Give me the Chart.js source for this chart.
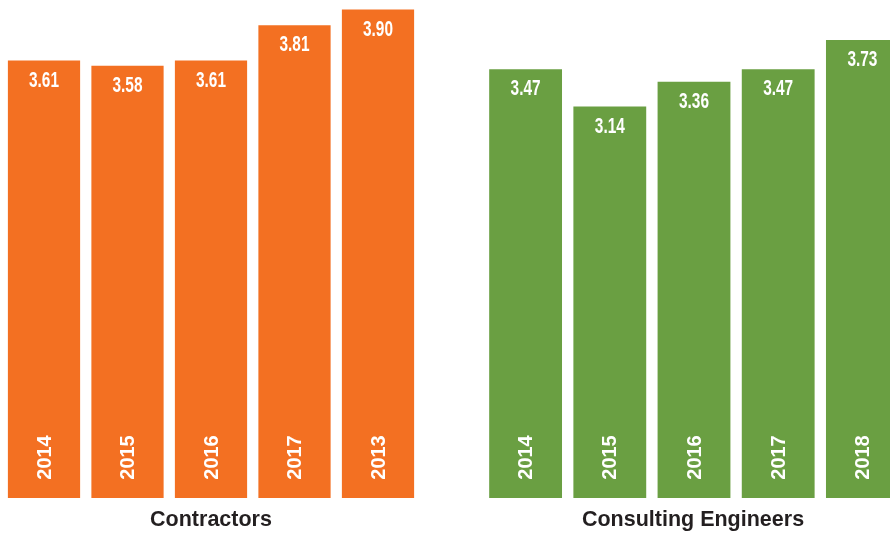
<!DOCTYPE html>
<html>
<head>
<meta charset="utf-8">
<script src="https://cdn.jsdelivr.net/npm/chart.js@4.4.0/dist/chart.umd.min.js"></script>
<style>
  html, body { margin: 0; padding: 0; background: #fff; overflow: hidden; width: 890px; height: 533px; }
  canvas { position: absolute; top: 0; }
  #contractors { left: 0; }
  #engineers { left: 481px; }
</style>
</head>
<body>
<canvas id="contractors" width="422" height="533"></canvas>
<canvas id="engineers" width="425" height="533"></canvas>
<script>
const contractorYears = ['2014', '2015', '2016', '2017', '2013'];
const contractorValues = [3.61, 3.58, 3.61, 3.81, 3.90];
const engineerYears = ['2014', '2015', '2016', '2017', '2018'];
const engineerValues = [3.47, 3.14, 3.36, 3.47, 3.73];

// value range of the (hidden) y axis for each panel, bars start at the low end
const contractorRange = [1.124, 3.954];
const engineerRange = [-0.337, 4.086];

const colors = {
  orange: '#f37022',
  green: '#6a9f42',
  text: '#231f20'
};

// value at the top of each bar, year turned up the bar, group caption below
const barLabels = {
  id: 'barLabels',
  afterDatasetsDraw(chart, args, opts) {
    const ctx = chart.ctx;
    const bars = chart.getDatasetMeta(0).data;
    const values = chart.data.datasets[0].data;
    const years = chart.data.labels;
    const area = chart.chartArea;

    ctx.save();
    ctx.fillStyle = '#fff';
    ctx.textAlign = 'center';
    ctx.textBaseline = 'middle';
    ctx.font = 'bold 22px "Liberation Sans", Arial, sans-serif';
    bars.forEach((bar, i) => {
      ctx.save();
      ctx.translate(bar.x, bar.y + 19);
      ctx.scale(0.7, 1);
      ctx.fillText(values[i].toFixed(2), 0, 1);
      ctx.restore();
    });
    ctx.restore();

    ctx.save();
    ctx.fillStyle = '#fff';
    ctx.textAlign = 'center';
    ctx.textBaseline = 'middle';
    ctx.font = 'bold 20px "Liberation Sans", Arial, sans-serif';
    bars.forEach((bar, i) => {
      ctx.save();
      ctx.translate(bar.x, bar.base - 40.5);
      ctx.rotate(-Math.PI / 2);
      ctx.fillText(years[i], 0, 1);
      ctx.restore();
    });
    ctx.restore();

    ctx.save();
    ctx.fillStyle = colors.text;
    ctx.textAlign = 'center';
    ctx.textBaseline = 'middle';
    ctx.font = 'bold 21.5px "Liberation Sans", Arial, sans-serif';
    ctx.fillText(opts.caption, opts.captionX, area.bottom + 22);
    ctx.restore();
  }
};

function makePanel(id, labels, values, color, range, caption, captionX, padding) {
  return new Chart(document.getElementById(id), {
    type: 'bar',
    data: {
      labels: labels,
      datasets: [{
        data: values,
        base: range[0],
        backgroundColor: color,
        borderWidth: 0,
        categoryPercentage: 1,
        barPercentage: 0.865
      }]
    },
    options: {
      responsive: false,
      animation: false,
      layout: { padding: padding },
      plugins: {
        legend: { display: false },
        tooltip: { enabled: false },
        barLabels: { caption: caption, captionX: captionX }
      },
      scales: {
        x: { display: false },
        y: { display: false, min: range[0], max: range[1] }
      }
    },
    plugins: [barLabels]
  });
}

makePanel('contractors', contractorYears, contractorValues, colors.orange, contractorRange,
  'Contractors', 211, { left: 2.25, right: 2.25, top: 0, bottom: 35 });
makePanel('engineers', engineerYears, engineerValues, colors.green, engineerRange,
  'Consulting Engineers', 212, { left: 2.5, right: 1.5, top: 0, bottom: 35 });
</script>
</body>
</html>
